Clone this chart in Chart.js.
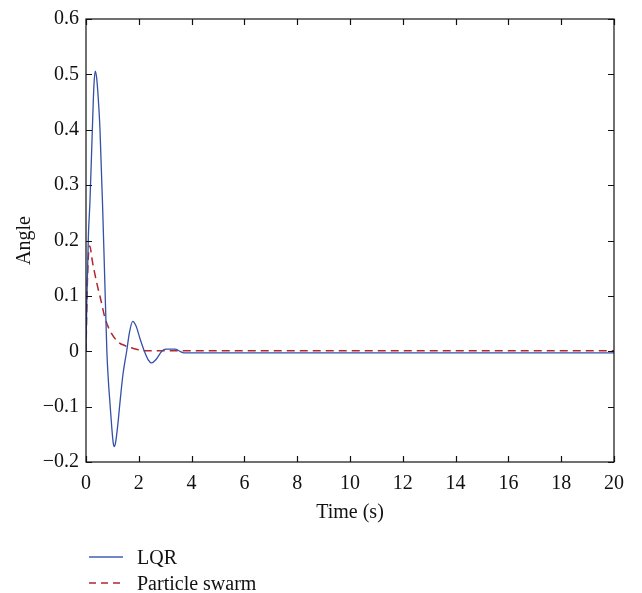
<!DOCTYPE html>
<html>
<head>
<meta charset="utf-8">
<script src="https://cdn.jsdelivr.net/npm/chart.js@4"></script>
<style>
  html, body { margin: 0; padding: 0; background: #fff; }
  #wrap { position: relative; width: 642px; height: 593px; }
  .legend { position: absolute; left: 89px; font-family: "Liberation Serif", serif; font-size: 20px; color: #111; }
  .legend-row { display: flex; align-items: center; height: 26px; }
  .legend-row svg { margin-right: 14px; }
</style>
</head>
<body>
<div id="wrap">
  <canvas id="chart" width="642" height="593"></canvas>
  <div class="legend" style="top: 544px;">
    <div class="legend-row"><svg width="34" height="4"><line x1="0" y1="2" x2="34" y2="2" stroke="#4060b0" stroke-width="1.4"/></svg>LQR</div>
    <div class="legend-row"><svg width="34" height="4"><line x1="0" y1="2" x2="34" y2="2" stroke="#b0282e" stroke-width="1.4" stroke-dasharray="7,5"/></svg>Particle swarm</div>
  </div>
</div>
<script>
document.addEventListener('DOMContentLoaded', () => {
  // LQR response
  const lqrTime = [0, 0.03, 0.09, 0.15, 0.24, 0.3, 0.35, 0.4, 0.46, 0.53, 0.63, 0.71, 0.79, 0.85, 0.91, 0.98, 1.03, 1.07, 1.12, 1.2, 1.29, 1.4, 1.54, 1.65, 1.77, 1.9, 2.05, 2.21, 2.35, 2.49, 2.65, 2.87, 3.03, 3.37, 3.55, 3.71, 20];
  const lqrAngle = [0, 0.088, 0.208, 0.27, 0.40, 0.48, 0.506, 0.495, 0.46, 0.40, 0.26, 0.13, 0.0, -0.055, -0.095, -0.14, -0.165, -0.172, -0.165, -0.135, -0.091, -0.042, 0.0, 0.035, 0.054, 0.045, 0.022, 0.0, -0.015, -0.021, -0.015, 0.0, 0.004, 0.004, 0.0, -0.003, -0.003];

  // particle swarm response
  const psoTime = [0, 0.05, 0.1, 0.14, 0.25, 0.4, 0.56, 0.72, 0.9, 1.21, 1.48, 1.8, 2.23, 20];
  const psoAngle = [0, 0.12, 0.18, 0.19, 0.16, 0.125, 0.093, 0.06, 0.038, 0.017, 0.010, 0.005, 0.001, 0.001];

  const xTicks = [0, 2, 4, 6, 8, 10, 12, 14, 16, 18, 20];
  const yTicks = [-0.2, -0.1, 0, 0.1, 0.2, 0.3, 0.4, 0.5, 0.6];

  const font = { family: '"Liberation Serif", serif', size: 20 };

  const toPoints = (xs, ys) => xs.map((x, i) => ({ x: x, y: ys[i] }));

  const fmt = v => {
    const s = Number(v.toFixed(1)).toString();
    return s.startsWith('-') ? '\u2212' + s.slice(1) : s;
  };

  // box around the plot with ticks pointing inward
  const boxTicks = {
    id: 'boxTicks',
    afterDraw(chart) {
      const { ctx, chartArea: a, scales } = chart;
      const len = 6;
      ctx.save();
      ctx.strokeStyle = '#111';
      ctx.lineWidth = 1.2;
      ctx.strokeRect(a.left, a.top, a.right - a.left, a.bottom - a.top);
      ctx.beginPath();
      xTicks.forEach(t => {
        const px = Math.round(scales.x.getPixelForValue(t)) + 0.5;
        ctx.moveTo(px, a.bottom); ctx.lineTo(px, a.bottom - len);
        ctx.moveTo(px, a.top); ctx.lineTo(px, a.top + len);
      });
      yTicks.forEach(t => {
        const py = Math.round(scales.y.getPixelForValue(t)) + 0.5;
        ctx.moveTo(a.left, py); ctx.lineTo(a.left + len, py);
        ctx.moveTo(a.right, py); ctx.lineTo(a.right - len, py);
      });
      ctx.stroke();
      ctx.restore();
    }
  };

  new Chart(document.getElementById('chart'), {
    type: 'scatter',
    data: {
      datasets: [
        {
          label: 'LQR',
          data: toPoints(lqrTime, lqrAngle),
          showLine: true,
          borderColor: '#3450a8',
          borderWidth: 1.3,
          pointRadius: 0,
          cubicInterpolationMode: 'monotone'
        },
        {
          label: 'Particle swarm',
          data: toPoints(psoTime, psoAngle),
          showLine: true,
          borderColor: '#b0282e',
          borderWidth: 1.5,
          borderDash: [8, 5],
          pointRadius: 0,
          cubicInterpolationMode: 'monotone'
        }
      ]
    },
    options: {
      responsive: false,
      animation: false,
      layout: { padding: { left: 8, top: 16, right: 28, bottom: 61 } },
      plugins: { legend: { display: false }, tooltip: { enabled: false } },
      scales: {
        x: {
          type: 'linear',
          min: 0, max: 20,
          afterBuildTicks: s => { s.ticks = xTicks.map(v => ({ value: v })); },
          afterFit: s => { s.height = 70; },
          grid: { display: false, drawTicks: false },
          border: { display: false },
          ticks: { font: font, color: '#111', padding: 10, maxRotation: 0, callback: v => fmt(v) },
          title: { display: true, text: 'Time (s)', font: font, color: '#111', padding: { top: 8, bottom: 7 } }
        },
        y: {
          min: -0.2, max: 0.6,
          afterBuildTicks: s => { s.ticks = yTicks.map(v => ({ value: v })); },
          afterFit: s => { s.width = 78; },
          grid: { display: false, drawTicks: false },
          border: { display: false },
          ticks: { font: font, color: '#111', padding: 7, callback: v => fmt(v) },
          title: { display: true, text: 'Angle', font: font, color: '#111', padding: { top: 5, bottom: 4 } }
        }
      }
    },
    plugins: [boxTicks]
  });
});
</script>
</body>
</html>
